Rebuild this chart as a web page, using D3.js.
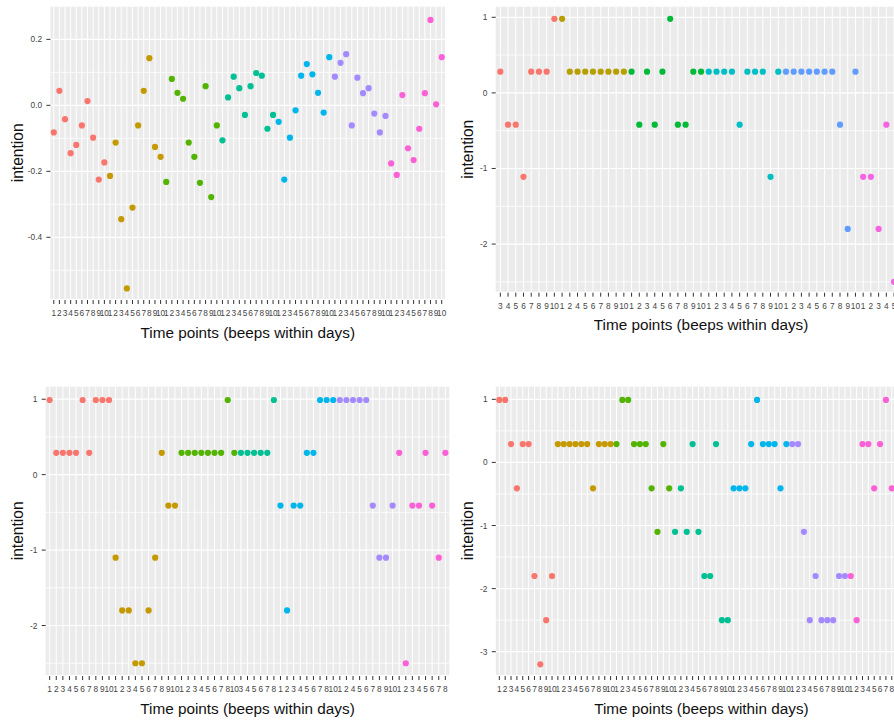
<!DOCTYPE html>
<html>
<head>
<meta charset="utf-8">
<script src="https://cdn.jsdelivr.net/npm/d3@7"></script>
<style>
  html, body { margin: 0; padding: 0; background: #ffffff; }
  svg { display: block; font-family: "Liberation Sans", Arial, sans-serif; }
</style>
</head>
<body>
<svg id="chart" width="894" height="721"></svg>
<script>
// Beep numbers (x tick labels), grouped by day, and intention scores per beep.
const full = [1, 2, 3, 4, 5, 6, 7, 8, 9, 10];

// Participant A
const p1Beeps = [full, full, full, full, full, full, full];
const p1Values = [
  [-0.082, 0.044, -0.042, -0.145, -0.120, -0.061, 0.013, -0.098, -0.225, -0.173],
  [-0.214, -0.113, -0.345, -0.555, -0.310, -0.061, 0.044, 0.143, -0.126, -0.156],
  [-0.232, 0.080, 0.038, 0.020, -0.113, -0.156, -0.235, 0.058, -0.278, -0.061],
  [-0.106, 0.024, 0.087, 0.052, -0.029, 0.058, 0.098, 0.090, -0.071, -0.029],
  [-0.050, -0.225, -0.098, -0.015, 0.090, 0.125, 0.094, 0.038, -0.022, 0.146],
  [0.087, 0.129, 0.155, -0.061, 0.084, 0.037, 0.052, -0.025, -0.082, -0.032],
  [-0.176, -0.211, 0.031, -0.130, -0.166, -0.071, 0.037, 0.259, 0.003, 0.146]
];
const p1YBreaks = [-0.4, -0.2, 0.0, 0.2];
const p1YLabels = ["-0.4", "-0.2", "0.0", "0.2"];
const p1YMinor = [-0.5, -0.3, -0.1, 0.1];

// Participant B (last beep of the final day falls outside the frame)
const p2Beeps = [
  [3, 4, 5, 6, 7, 8, 9, 10],
  [1, 2, 4, 5, 6, 7, 8, 9, 10],
  full, full, full,
  [1, 2, 3, 4, 5, 6]
];
const p2Values = [
  [0.28, -0.42, -0.42, -1.11, 0.28, 0.28, 0.28, 0.98],
  [0.98, 0.28, 0.28, 0.28, 0.28, 0.28, 0.28, 0.28, 0.28],
  [0.28, -0.42, 0.28, -0.42, 0.28, 0.98, -0.42, -0.42, 0.28, 0.28],
  [0.28, 0.28, 0.28, 0.28, -0.42, 0.28, 0.28, 0.28, -1.11, 0.28],
  [0.28, 0.28, 0.28, 0.28, 0.28, 0.28, 0.28, -0.42, -1.80, 0.28],
  [-1.11, -1.11, -1.80, -0.42, -2.50]
];
const p2YBreaks = [-2, -1, 0, 1];
const p2YLabels = ["-2", "-1", "0", "1"];
const p2YMinor = [-2.5, -1.5, -0.5, 0.5];

// Participant C
const p3Beeps = [
  full, full,
  [1, 2, 3, 4, 5, 6, 7, 8, 10],
  [3, 4, 5, 6, 7, 8],
  [1, 2, 3, 4, 5, 6, 7, 8, 10],
  [1, 2, 4, 5, 6, 7, 8, 9, 10],
  [1, 2, 3, 4, 5, 6, 7, 8]
];
const p3Values = [
  [0.99, 0.29, 0.29, 0.29, 0.29, 0.99, 0.29, 0.99, 0.99, 0.99],
  [-1.10, -1.80, -1.80, -2.50, -2.50, -1.80, -1.10, 0.29, -0.41, -0.41],
  [0.29, 0.29, 0.29, 0.29, 0.29, 0.29, 0.29, 0.99, 0.29],
  [0.29, 0.29, 0.29, 0.29, 0.29, 0.99],
  [-0.41, -1.80, -0.41, -0.41, 0.29, 0.29, 0.99, 0.99, 0.99],
  [0.99, 0.99, 0.99, 0.99, 0.99, -0.41, -1.10, -1.10, -0.41],
  [0.29, -2.50, -0.41, -0.41, 0.29, -0.41, -1.10, 0.29]
];
const p3YBreaks = [-2, -1, 0, 1];
const p3YLabels = ["-2", "-1", "0", "1"];
const p3YMinor = [-2.5, -1.5, -0.5, 0.5];

// Participant D (last two beeps of the final day fall outside the frame)
const p4Beeps = [full, full, full, full, full, full, full];
const p4Values = [
  [0.99, 0.99, 0.29, -0.41, 0.29, 0.29, -1.80, -3.20, -2.50, -1.80],
  [0.29, 0.29, 0.29, 0.29, 0.29, 0.29, -0.41, 0.29, 0.29, 0.29],
  [0.29, 0.99, 0.99, 0.29, 0.29, 0.29, -0.41, -1.10, 0.29, -0.41],
  [-1.10, -0.41, -1.10, 0.29, -1.10, -1.80, -1.80, 0.29, -2.50, -2.50],
  [-0.41, -0.41, -0.41, 0.29, 0.99, 0.29, 0.29, 0.29, -0.41, 0.29],
  [0.29, 0.29, -1.10, -2.50, -1.80, -2.50, -2.50, -2.50, -1.80, -1.80],
  [-1.80, -2.50, 0.29, 0.29, -0.41, 0.29, 0.99, -0.41]
];
const p4YBreaks = [-3, -2, -1, 0, 1];
const p4YLabels = ["-3", "-2", "-1", "0", "1"];
const p4YMinor = [-2.5, -1.5, -0.5, 0.5];

// Default discrete hue palettes for 7 and 6 days
const hue7 = ["#F8766D", "#C49A00", "#53B400", "#00C094", "#00B6EB", "#A58AFF", "#FB61D7"];
const hue6 = ["#F8766D", "#B79F00", "#00BA38", "#00BFC4", "#619CFF", "#F564E3"];

const xTitle = "Time points (beeps within days)";
const yTitle = "intention";

const panels = [
  { beeps: p1Beeps, values: p1Values, colors: hue7,
    yBreaks: p1YBreaks, yLabels: p1YLabels, yMinor: p1YMinor,
    box: { left: 50.4, right: 445.1, top: 6.7, bottom: 299 },
    yDomain: [-0.587, 0.299], yTitleX: 18.3 },
  { beeps: p2Beeps, values: p2Values, colors: hue6,
    yBreaks: p2YBreaks, yLabels: p2YLabels, yMinor: p2YMinor,
    box: { left: 495.7, right: 906.4, top: 6.7, bottom: 291.7 },
    yDomain: [-2.63, 1.14], yTitleX: 468 },
  { beeps: p3Beeps, values: p3Values, colors: hue7,
    yBreaks: p3YBreaks, yLabels: p3YLabels, yMinor: p3YMinor,
    box: { left: 45.7, right: 449.3, top: 386.7, bottom: 675 },
    yDomain: [-2.656, 1.166], yTitleX: 18.3 },
  { beeps: p4Beeps, values: p4Values, colors: hue7,
    yBreaks: p4YBreaks, yLabels: p4YLabels, yMinor: p4YMinor,
    box: { left: 495.8, right: 907, top: 386.7, bottom: 675 },
    yDomain: [-3.369, 1.2], yTitleX: 468 }
];

const svg = d3.select("#chart");

function drawPanel(cfg) {
  const b = cfg.box;
  // one discrete x position per recorded beep, in day order
  const levels = [];
  cfg.beeps.forEach((dayBeeps, d) => {
    dayBeeps.forEach((beep, j) => {
      levels.push({ day: d, beep: beep, value: cfg.values[d][j] });
    });
  });
  const n = levels.length;
  const x = d3.scaleLinear().domain([-0.6, n - 0.4]).range([b.left, b.right]);
  const y = d3.scaleLinear().domain(cfg.yDomain).range([b.bottom, b.top]);

  const g = svg.append("g");

  // panel background
  g.append("rect")
    .attr("x", b.left).attr("y", b.top)
    .attr("width", b.right - b.left).attr("height", b.bottom - b.top)
    .attr("fill", "#EBEBEB");

  // horizontal grid: minor then major
  g.selectAll(".yminor").data(cfg.yMinor.filter(v => v > cfg.yDomain[0] && v < cfg.yDomain[1]))
    .enter().append("line")
    .attr("x1", b.left).attr("x2", b.right)
    .attr("y1", d => y(d)).attr("y2", d => y(d))
    .attr("stroke", "#ffffff").attr("stroke-width", 0.8);
  g.selectAll(".ymajor").data(cfg.yBreaks)
    .enter().append("line")
    .attr("x1", b.left).attr("x2", b.right)
    .attr("y1", d => y(d)).attr("y2", d => y(d))
    .attr("stroke", "#ffffff").attr("stroke-width", 1.2);

  // vertical grid at every beep
  g.selectAll(".xgrid").data(levels)
    .enter().append("line")
    .attr("x1", (d, i) => x(i)).attr("x2", (d, i) => x(i))
    .attr("y1", b.top).attr("y2", b.bottom)
    .attr("stroke", "#ffffff").attr("stroke-width", 1.0);

  // x ticks and labels
  g.selectAll(".xtick").data(levels)
    .enter().append("line")
    .attr("x1", (d, i) => x(i)).attr("x2", (d, i) => x(i))
    .attr("y1", b.bottom + 1).attr("y2", b.bottom + 5)
    .attr("stroke", "#333333").attr("stroke-width", 1);
  g.selectAll(".xlab").data(levels)
    .enter().append("text")
    .attr("x", (d, i) => x(i)).attr("y", b.bottom + 17)
    .attr("text-anchor", "middle")
    .attr("font-size", 8.3).attr("fill", "#444444")
    .text(d => d.beep);

  // y ticks and labels
  g.selectAll(".ytick").data(cfg.yBreaks)
    .enter().append("line")
    .attr("x1", b.left - 4).attr("x2", b.left)
    .attr("y1", d => y(d)).attr("y2", d => y(d))
    .attr("stroke", "#333333").attr("stroke-width", 1);
  g.selectAll(".ylab").data(cfg.yBreaks)
    .enter().append("text")
    .attr("x", b.left - 8.3).attr("y", d => y(d) + 3)
    .attr("text-anchor", "end")
    .attr("font-size", 8.3).attr("fill", "#444444")
    .text((d, i) => cfg.yLabels[i]);

  // points, coloured by day
  g.selectAll(".pt").data(levels.map((d, i) => ({ ...d, i })).filter(d => d.value !== undefined))
    .enter().append("circle")
    .attr("cx", d => x(d.i)).attr("cy", d => y(d.value))
    .attr("r", 3.1)
    .attr("fill", d => cfg.colors[d.day]);

  // axis titles
  g.append("text")
    .attr("x", (b.left + b.right) / 2).attr("y", b.bottom + 38.5)
    .attr("text-anchor", "middle")
    .attr("font-size", 15.3).attr("fill", "#111111")
    .text(xTitle);
  g.append("text")
    .attr("transform", `translate(${cfg.yTitleX},${(b.top + b.bottom) / 2}) rotate(-90)`)
    .attr("dy", "0.3em")
    .attr("text-anchor", "middle")
    .attr("font-size", 15.6).attr("fill", "#111111")
    .text(yTitle);
}

panels.forEach(drawPanel);
</script>
</body>
</html>
